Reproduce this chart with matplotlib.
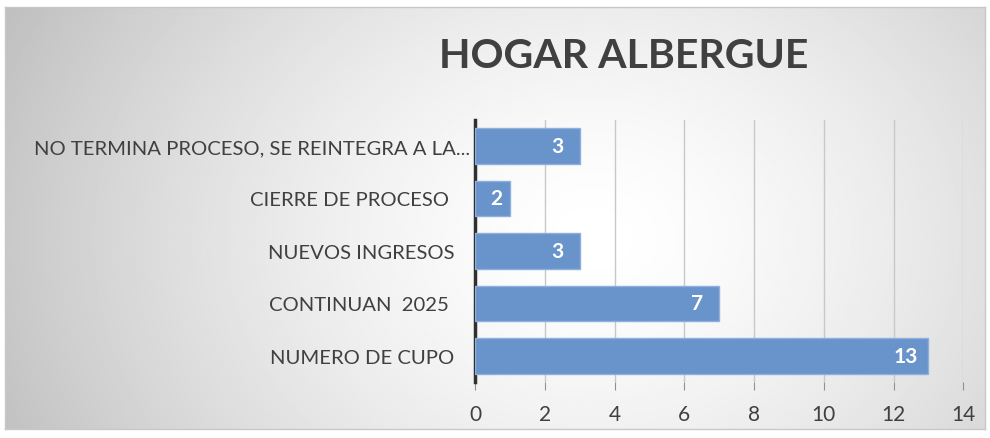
import matplotlib.pyplot as plt
import numpy as np

# data (bottom to top as drawn)
categories = ['NUMERO DE CUPO   ', 'CONTINUAN  2025    ', 'NUEVOS INGRESOS   ',
              'CIERRE DE PROCESO    ', 'NO TERMINA PROCESO, SE REINTEGRA A LA...']
values = [13, 7, 3, 1, 3]
value_labels = ['13', '7', '3', '2', '3']

plt.rcParams['font.family'] = ['Lato', 'DejaVu Sans']

fig = plt.figure(figsize=(9.9, 4.39), dpi=100)

# gradient background panel
bg = fig.add_axes([0.005, 0.02, 0.99, 0.962])
xx, yy = np.meshgrid(np.linspace(0, 1, 400), np.linspace(0, 1, 200))
r = np.sqrt(((xx - 0.6) / 0.7) ** 2 + ((yy - 0.55) / 1.3) ** 2)
shade = 1.0 - 0.27 * np.clip(r, 0, 1) ** 1.5
bg.imshow(shade, cmap='gray', vmin=0, vmax=1, aspect='auto', extent=[0, 1, 0, 1])
bg.set_xticks([])
bg.set_yticks([])
for s in bg.spines.values():
    s.set_color('#c8c8c8')
    s.set_linewidth(1)

ax = fig.add_axes([0.48, 0.127, 0.493, 0.598])
ax.patch.set_alpha(0)
y = np.arange(len(categories))
bars = ax.barh(y, values, height=0.68, color='#6894cb', edgecolor='#8fb0dc', linewidth=1, zorder=3)

for b, lab in zip(bars, value_labels):
    w = b.get_width()
    ax.text(max(w - 0.65, w / 2 + 0.1), b.get_y() + b.get_height() / 2, lab,
            ha='center', va='center', color='white', fontsize=15, fontweight='bold', zorder=4)

ax.set_xlim(0, 14)
ax.set_ylim(-0.5, len(categories) - 0.5)
ax.set_xticks(range(0, 15, 2))
ax.set_yticks(y)
ax.set_yticklabels(categories)
ax.grid(axis='x', color='#c8c8c8', linewidth=1, zorder=0)
ax.tick_params(axis='y', length=0, pad=4, labelsize=14.6, labelcolor='#404040')
ax.tick_params(axis='x', length=6, direction='out', color='#909090', labelsize=15,
               labelcolor='#404040', pad=10)
for s in ['top', 'right', 'bottom']:
    ax.spines[s].set_visible(False)
ax.spines['left'].set_color('#303030')
ax.spines['left'].set_linewidth(2.5)

fig.text(0.63, 0.872, 'HOGAR ALBERGUE', ha='center', va='center', fontsize=29.5,
         fontweight='bold', color='#404040')

fig.savefig('out.png', dpi=100)
